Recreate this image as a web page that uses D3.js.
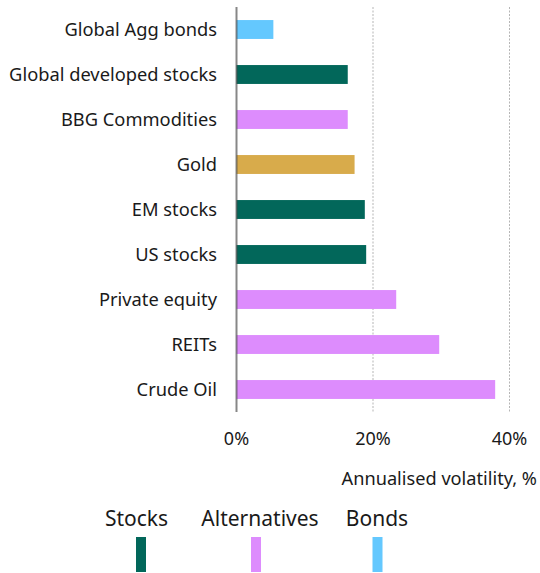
<!DOCTYPE html>
<html>
<head>
<meta charset="utf-8">
<script src="https://cdn.jsdelivr.net/npm/d3@7"></script>
<style>
  html, body { margin: 0; padding: 0; background: #fff; }
  svg text { font-family: "Noto Sans", "Open Sans", sans-serif; fill: #1a1a1a; }
</style>
</head>
<body>
<svg id="chart" width="540" height="573"></svg>
<script>
// Asset classes, top to bottom
const categories = [
  "Global Agg bonds",
  "Global developed stocks",
  "BBG Commodities",
  "Gold",
  "EM stocks",
  "US stocks",
  "Private equity",
  "REITs",
  "Crude Oil"
];
// Annualised volatility, %
const volatility = [5.4, 16.3, 16.3, 17.3, 18.8, 19.0, 23.4, 29.7, 37.9];
// Asset group per category
const groups = ["Bonds", "Stocks", "Alternatives", "Gold", "Stocks", "Stocks", "Alternatives", "Alternatives", "Alternatives"];
// Axis ticks
const tickValues = [0, 20, 40];
// Legend entries
const legendGroups = ["Stocks", "Alternatives", "Bonds"];

const palette = {
  Stocks: "#02675a",
  Alternatives: "#dd8cfd",
  Bonds: "#64c8fe",
  Gold: "#d8ab4b"
};

const svg = d3.select("#chart");

const x = d3.scaleLinear().domain([0, 40]).range([236.5, 509.5]);
const y = d3.scaleBand().domain(categories).range([7, 412])
  .paddingInner(0.58).paddingOuter(0.29);

// Dashed gridlines
svg.append("g")
  .selectAll("line")
  .data(tickValues.filter(d => d > 0))
  .join("line")
  .attr("x1", d => x(d)).attr("x2", d => x(d))
  .attr("y1", 7).attr("y2", 412)
  .attr("stroke", "#b5b5b5")
  .attr("stroke-width", 1)
  .attr("stroke-dasharray", "2,1.5");

// Bars
const data = categories.map((c, i) => ({ c, v: volatility[i], g: groups[i] }));
svg.append("g")
  .selectAll("rect")
  .data(data)
  .join("rect")
  .attr("x", x(0))
  .attr("y", d => y(d.c))
  .attr("width", d => x(d.v) - x(0))
  .attr("height", y.bandwidth())
  .attr("fill", d => palette[d.g]);

// Category axis line
svg.append("line")
  .attr("x1", x(0)).attr("x2", x(0))
  .attr("y1", 7).attr("y2", 412)
  .attr("stroke", "rgba(70,70,70,0.65)")
  .attr("stroke-width", 2);

// Category labels
svg.append("g")
  .selectAll("text")
  .data(categories)
  .join("text")
  .attr("x", 217)
  .attr("y", d => y(d) + y.bandwidth() / 2)
  .attr("dy", "0.35em")
  .attr("text-anchor", "end")
  .attr("font-size", 18.3)
  .text(d => d);

// Value axis tick labels
svg.append("g")
  .selectAll("text")
  .data(tickValues)
  .join("text")
  .attr("x", d => x(d))
  .attr("y", 445)
  .attr("text-anchor", "middle")
  .attr("font-size", 18)
  .text(d => d + "%");

// Axis title
svg.append("text")
  .attr("x", 537)
  .attr("y", 485)
  .attr("text-anchor", "end")
  .attr("font-size", 18.2)
  .text("Annualised volatility, %");

// Legend: label centres and swatch centres
const legendTextX = [136.5, 260, 377];
const legendSwatchX = [141, 256, 377.5];
const legend = svg.append("g")
  .selectAll("g")
  .data(legendGroups)
  .join("g");

legend.append("text")
  .attr("x", (d, i) => legendTextX[i])
  .attr("y", 526)
  .attr("text-anchor", "middle")
  .attr("font-size", 21)
  .text(d => d);

legend.append("rect")
  .attr("x", (d, i) => legendSwatchX[i] - 5)
  .attr("y", 537)
  .attr("width", 10)
  .attr("height", 35)
  .attr("fill", d => palette[d]);
</script>
</body>
</html>
